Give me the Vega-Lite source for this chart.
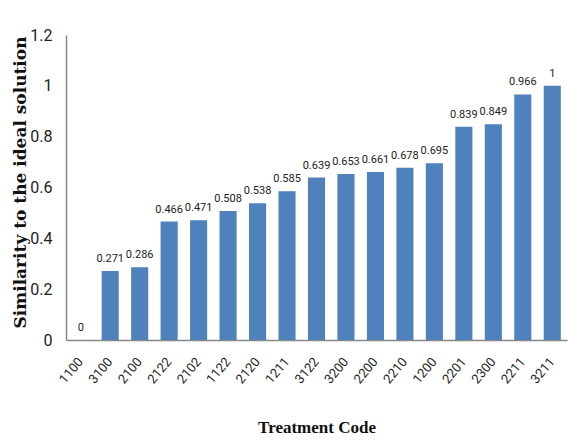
{
  "$schema": "https://vega.github.io/schema/vega-lite/v6.json",
  "width": 501,
  "height": 305,
  "autosize": {"type": "none"},
  "padding": {"left": 66, "top": 35, "right": 1, "bottom": 102},
  "background": "white",
  "config": {"view": {"stroke": null}},
  "data": {
    "values": [
      {"code": "1100", "value": 0},
      {"code": "3100", "value": 0.271},
      {"code": "2100", "value": 0.286},
      {"code": "2122", "value": 0.466},
      {"code": "2102", "value": 0.471},
      {"code": "1122", "value": 0.508},
      {"code": "2120", "value": 0.538},
      {"code": "1211", "value": 0.585},
      {"code": "3122", "value": 0.639},
      {"code": "3200", "value": 0.653},
      {"code": "2200", "value": 0.661},
      {"code": "2210", "value": 0.678},
      {"code": "1200", "value": 0.695},
      {"code": "2201", "value": 0.839},
      {"code": "2300", "value": 0.849},
      {"code": "2211", "value": 0.966},
      {"code": "3211", "value": 1}
    ]
  },
  "encoding": {
    "x": {
      "field": "code",
      "type": "nominal",
      "sort": null,
      "scale": {"paddingInner": 0.42, "paddingOuter": 0.21},
      "axis": {
        "title": "Treatment Code",
        "titleFont": "Liberation Serif",
        "titleFontWeight": "bold",
        "titleFontSize": 17,
        "titleColor": "#111",
        "titleY": 92,
        "titleBaseline": "alphabetic",
        "labelAngle": -50,
        "labelAlign": "right",
        "labelBaseline": "middle",
        "labelPadding": 19,
        "labelFont": "Roboto",
        "labelFontSize": 13,
        "labelColor": "#222",
        "ticks": false,
        "domainColor": "#888",
        "domainWidth": 1.5
      }
    },
    "y": {
      "field": "value",
      "type": "quantitative",
      "scale": {"domain": [0, 1.2], "nice": false},
      "axis": {
        "title": "Similarity to the ideal solution",
        "titleFont": "DejaVu Serif",
        "titleFontWeight": "bold",
        "titleFontSize": 17,
        "titleColor": "#111",
        "titleX": -46,
        "titleY": 147,
        "titleAngle": -90,
        "titleAlign": "center",
        "titleBaseline": "middle",
        "values": [0, 0.2, 0.4, 0.6, 0.8, 1, 1.2],
        "format": "~g",
        "labelFont": "Roboto",
        "labelFontSize": 16,
        "labelColor": "#222",
        "labelPadding": 14,
        "ticks": false,
        "grid": false,
        "domainColor": "#888",
        "domainWidth": 1.5
      }
    }
  },
  "layer": [
    {"mark": {"type": "bar", "color": "#4F81BD"}},
    {
      "mark": {"type": "text", "baseline": "bottom", "dy": -7, "font": "Roboto", "fontSize": 11, "color": "#222"},
      "encoding": {"text": {"field": "value", "type": "quantitative", "format": "~g"}}
    }
  ]
}
